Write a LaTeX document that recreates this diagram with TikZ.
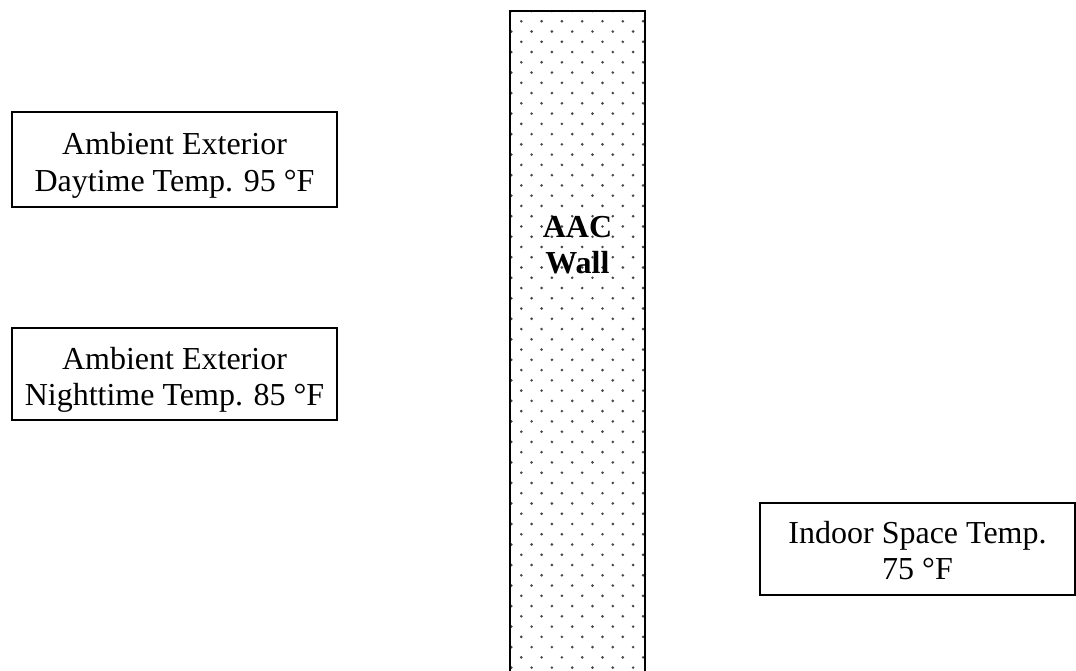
\documentclass[tikz,border=0pt]{standalone}
\usepackage{fontspec}
\setmainfont{Liberation Serif}
\begin{document}
\begin{tikzpicture}[x=0.75pt,y=-0.75pt,
  tbox/.style={draw=black,line width=1.1pt,inner sep=0pt},
  tlabel/.style={inner sep=0pt,align=center,font=\fontsize{24}{27.5}\selectfont},
  wallline/.style={draw=black,line width=1.5pt},
  dotc/.style={fill=black!72}]
\useasboundingbox (0,0) rectangle (1076,671);
% wall dots
\begin{scope}
\clip (510,11) rectangle (645,671);
\foreach \k in {0,...,65}{
  \pgfmathsetmacro{\yy}{11+10.26*\k}
  \pgfmathsetmacro{\xo}{mod(\k,2)==0 ? 511.3 : 521.3}
  \foreach \j in {0,...,6}{
    \fill[dotc] ({\xo+20.3*\j},\yy) circle (1.45);
  }
}
\end{scope}
\coordinate (wbl) at (510,671);
\coordinate (wtl) at (510,11);
\coordinate (wtr) at (645,11);
\coordinate (wbr) at (645,671);
\draw[wallline] (wbl) -- (wtl) -- (wtr) -- (wbr);
\node[font=\fontsize{24}{27.5}\selectfont\bfseries,align=center] (wall) at (577.5,245) {AAC\\Wall};
\node[tbox,minimum width=243.75pt,minimum height=71.25pt] (day) at (174.5,159.5) {};
\node[tlabel] (daytext) at ([yshift=-4.5pt]day.center) {Ambient Exterior\\Daytime Temp. 95 °F};
\node[tbox,minimum width=243.75pt,minimum height=69pt] (night) at (174.5,374) {};
\node[tlabel] (nighttext) at ([yshift=-4.5pt]night.center) {Ambient Exterior\\Nighttime Temp. 85 °F};
\node[tbox,minimum width=236.25pt,minimum height=69pt] (indoor) at (917.5,549) {};
\node[tlabel] (indoortext) at ([yshift=-1.2pt]indoor.center) {Indoor Space Temp.\\75 °F};
\end{tikzpicture}
\end{document}
